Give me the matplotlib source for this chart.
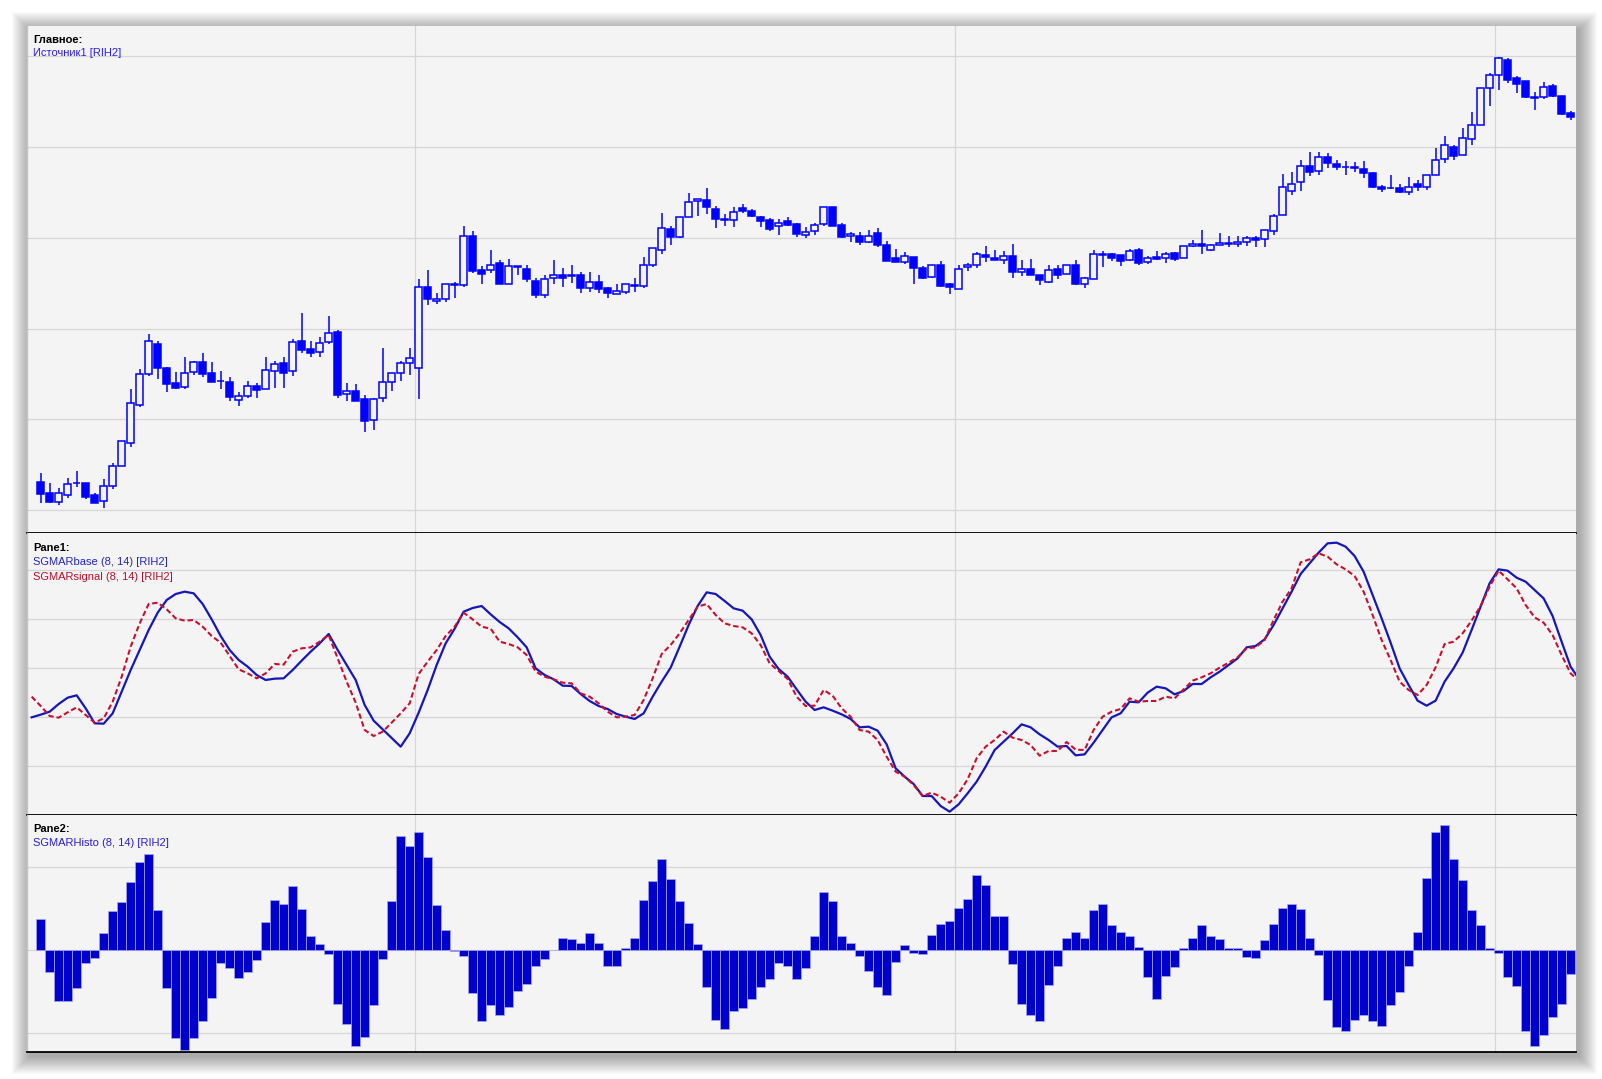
import numpy as np
import matplotlib
matplotlib.use("Agg")
import matplotlib.pyplot as plt
from matplotlib.patches import Rectangle

# ─── Dati (prezzi in punti sopra la linea di griglia inferiore) ──────────────
OPEN = [
    28, 17, 8, 15, 27, 27, 15, 9, 24, 44,
    67, 105, 136, 166, 142, 127, 123, 138, 148, 137,
    129, 128, 110, 114, 124, 121, 139, 147, 139, 169,
    161, 158, 168, 178, 116, 119, 111, 90, 112, 128,
    137, 147, 142, 223, 209, 211, 226, 225, 274, 240,
    240, 247, 226, 244, 241, 229, 215, 232, 235, 235,
    235, 222, 228, 222, 216, 218, 225, 224, 245, 260,
    281, 273, 293, 309, 310, 301, 291, 290, 302, 299,
    293, 290, 284, 289, 286, 275, 279, 286, 303, 285,
    274, 274, 268, 277, 265, 252, 248, 253, 242, 233,
    245, 226, 221, 243, 245, 255, 252, 250, 254, 238,
    241, 235, 228, 241, 236, 245, 226, 231, 256, 256,
    255, 250, 260, 248, 253, 252, 257, 252, 264, 266,
    260, 265, 267, 266, 268, 272, 271, 279, 295, 319,
    328, 344, 339, 353, 346, 343, 343, 341, 337, 323,
    322, 322, 318, 326, 323, 335, 351, 363, 355, 371,
    385, 422, 435, 450, 432, 429, 413, 413, 424, 414, 397,
]
HIGH = [
    37, 27, 22, 32, 39, 27, 17, 31, 47, 69,
    121, 141, 176, 169, 143, 138, 153, 149, 157, 148,
    139, 133, 118, 129, 127, 153, 149, 153, 171, 197,
    169, 173, 194, 180, 127, 126, 115, 112, 162, 137,
    149, 162, 231, 240, 217, 226, 228, 284, 279, 244,
    260, 250, 251, 244, 245, 232, 235, 250, 242, 245,
    238, 238, 235, 223, 226, 226, 232, 253, 262, 297,
    284, 293, 317, 311, 322, 304, 296, 303, 306, 301,
    294, 292, 291, 293, 287, 283, 287, 303, 303, 287,
    278, 278, 280, 282, 269, 261, 258, 253, 244, 245,
    249, 227, 245, 247, 258, 264, 260, 259, 266, 250,
    251, 235, 245, 245, 245, 250, 233, 260, 259, 257,
    255, 261, 262, 254, 259, 258, 258, 264, 270, 280,
    266, 277, 274, 274, 274, 274, 280, 296, 336, 338,
    350, 358, 358, 357, 350, 349, 348, 349, 338, 325,
    335, 326, 333, 330, 335, 362, 374, 365, 382, 398,
    422, 437, 453, 452, 434, 429, 418, 428, 426, 414, 399,
]
LOW = [
    7, 7, 5, 12, 23, 11, 7, 2, 21, 44,
    63, 103, 134, 131, 118, 121, 121, 135, 133, 128,
    121, 109, 104, 112, 112, 121, 122, 122, 134, 157,
    153, 153, 166, 112, 109, 109, 78, 80, 108, 119,
    129, 135, 111, 205, 206, 208, 212, 223, 237, 226,
    237, 226, 226, 235, 228, 212, 212, 226, 223, 227,
    217, 218, 217, 212, 216, 216, 218, 222, 243, 256,
    265, 272, 293, 294, 296, 282, 284, 283, 297, 293,
    283, 279, 275, 284, 273, 272, 275, 284, 284, 272,
    268, 265, 267, 263, 249, 248, 246, 226, 231, 232,
    223, 216, 221, 239, 242, 248, 250, 246, 232, 234,
    235, 225, 227, 231, 236, 225, 222, 231, 243, 249,
    244, 249, 245, 246, 250, 247, 249, 252, 263, 256,
    259, 265, 263, 263, 264, 263, 263, 275, 295, 315,
    319, 334, 335, 342, 340, 335, 338, 332, 322, 318,
    321, 317, 315, 319, 320, 335, 347, 350, 355, 365,
    385, 404, 420, 427, 417, 412, 400, 411, 413, 395, 390,
]
CLOSE = [
    16, 8, 17, 26, 27, 13, 7, 24, 44, 69,
    107, 136, 169, 142, 126, 122, 137, 148, 136, 128,
    129, 113, 114, 124, 120, 140, 146, 137, 168, 160,
    157, 167, 177, 115, 119, 109, 89, 111, 128, 137,
    147, 152, 223, 211, 211, 226, 225, 274, 239, 236,
    245, 226, 244, 243, 231, 215, 231, 235, 232, 234,
    222, 228, 221, 217, 219, 226, 224, 245, 262, 282,
    273, 293, 308, 311, 303, 291, 290, 298, 299, 294,
    289, 281, 287, 285, 276, 278, 285, 303, 284, 273,
    276, 268, 274, 265, 249, 248, 254, 242, 232, 245,
    224, 223, 241, 245, 256, 253, 250, 254, 238, 241,
    235, 230, 240, 235, 245, 226, 232, 256, 255, 252,
    249, 259, 247, 252, 251, 256, 251, 264, 266, 264,
    265, 267, 266, 268, 272, 270, 280, 294, 323, 326,
    344, 338, 353, 347, 343, 343, 342, 337, 323, 321,
    322, 318, 323, 323, 335, 350, 365, 354, 372, 385,
    422, 435, 452, 430, 426, 413, 412, 423, 414, 396, 393,
]

# SGMARbase / SGMARsignal: dalla barra -1 alla barra 171
BASE = [
    -149, -141, -132, -109, -90, -83, -122, -167, -168, -137,
    -72, -7, 53, 113, 165, 203, 221, 228, 223, 191,
    145, 95, 53, 23, 3, -22, -37, -33, -32, -7,
    21, 48, 73, 101, 53, 8, -37, -112, -159, -185,
    -211, -237, -197, -135, -67, 8, 73, 117, 168, 179,
    185, 160, 137, 118, 91, 61, -2, -22, -35, -54,
    -55, -79, -100, -115, -124, -139, -147, -154, -137, -87,
    -42, 0, 63, 128, 185, 226, 221, 200, 178, 171,
    145, 98, 33, -4, -27, -65, -102, -127, -119, -129,
    -140, -154, -179, -177, -189, -230, -302, -327, -349, -385,
    -385, -415, -432, -410, -377, -342, -297, -247, -222, -197,
    -170, -179, -200, -217, -237, -235, -263, -260, -225, -187,
    -149, -137, -102, -104, -75, -57, -62, -80, -70, -49,
    -49, -29, -12, 8, 28, 61, 65, 85, 128, 178,
    228, 281, 313, 345, 373, 375, 363, 335, 288, 218,
    148, 75, -2, -52, -99, -114, -99, -42, -2, 45,
    113, 183, 253, 295, 291, 270, 258, 233, 208, 155,
    78, 3, -37,
]
SIGNAL = [
    -87, -115, -145, -150, -134, -119, -142, -165, -152, -102,
    -27, 63, 133, 191, 195, 175, 148, 141, 143, 123,
    95, 75, 35, -5, -17, -32, -17, 11, 9, 48,
    58, 61, 78, 98, 28, -42, -105, -187, -205, -192,
    -165, -137, -107, -19, 18, 53, 95, 123, 165, 145,
    123, 117, 78, 71, 61, 38, -12, -27, -35, -45,
    -47, -77, -87, -107, -132, -149, -147, -142, -97, -32,
    41, 68, 103, 143, 183, 191, 158, 133, 125, 121,
    103, 68, 13, -10, -34, -87, -115, -114, -67, -84,
    -122, -147, -187, -192, -217, -267, -312, -327, -352, -385,
    -375, -387, -405, -377, -335, -272, -237, -217, -192, -210,
    -217, -232, -264, -250, -250, -223, -246, -247, -187, -147,
    -132, -124, -92, -102, -100, -100, -87, -92, -65, -39,
    -29, -17, 0, 15, 31, 58, 61, 83, 143, 198,
    238, 316, 325, 343, 333, 310, 295, 275, 228, 158,
    83, 23, -42, -67, -82, -52, 1, 71, 78, 103,
    141, 185, 243, 291, 265, 238, 188, 151, 135, 98,
    38, -17, -42,
]
HISTO = [
    93, -65, -152, -152, -115, -40, -23, 51, 115, 142,
    202, 263, 287, 120, -115, -262, -300, -264, -213, -145,
    -38, -55, -85, -67, -31, 82, 150, 138, 192, 122,
    42, 19, -13, -163, -222, -288, -260, -165, -28, 145,
    339, 309, 351, 278, 135, 58, -3, -17, -128, -213,
    -165, -195, -172, -122, -103, -49, -28, 0, 35, 33,
    22, 51, 22, -49, -47, 5, 35, 150, 207, 272,
    213, 147, 80, 19, -112, -210, -235, -182, -173, -148,
    -112, -88, -38, -49, -88, -55, 42, 174, 147, 42,
    22, -19, -62, -112, -136, -37, 15, -10, -13, 45,
    78, 85, 126, 153, 225, 195, 102, 102, -43, -162,
    -195, -213, -106, -49, 35, 54, 36, 120, 138, 75,
    54, 42, 10, -82, -148, -79, -52, 7, 36, 75,
    42, 33, 7, 7, -22, -25, 30, 78, 126, 138,
    123, 36, -16, -151, -231, -243, -210, -195, -213, -228,
    -165, -127, -49, 54, 216, 353, 374, 272, 210, 120,
    75, 7, -10, -82, -109, -243, -287, -255, -199, -163, -73,
]
DAY_BREAKS = [41.6, 101.6, 161.6]

# ─── Stile ────────────────────────────────────────────────────────────────────
BG = "#f4f4f4"
GRID = "#d6d6d6"
CANDLE = "#0000ff"
BASE_COL = "#1717b8"
SIG_COL = "#c8102e"
HIST_COL = "#0000cd"
FONT = ["Liberation Sans", "DejaVu Sans"]

W, H = 1602, 1079
fig = plt.figure(figsize=(W / 100, H / 100), dpi=100)
fig.patch.set_facecolor("white")


def box(x0, y0, x1, y1):
    return [x0 / W, 1 - y1 / H, (x1 - x0) / W, (y1 - y0) / H]


# ombra attorno al grafico
for s in range(18, 0, -1):
    fig.patches.append(Rectangle(
        ((27 - s + 3) / W, 1 - (1052 + s + 4) / H), (1549 + 2 * s) / W, (1026 + 2 * s) / H,
        transform=fig.transFigure, color="black", alpha=0.02, lw=0, zorder=-5))

ax0 = fig.add_axes(box(27, 26, 1576, 533))
ax1 = fig.add_axes(box(27, 533, 1576, 815))
ax2 = fig.add_axes(box(27, 815, 1576, 1052))

x = np.arange(len(OPEN))
x_line = np.arange(-1, len(BASE) - 1)

for ax, grid_y, lims in [
    (ax0, np.arange(6) * 90.7, (-23, 484)),
    (ax1, np.arange(-2, 3) * 147, (-442, 404)),
    (ax2, [-248, 0, 248], (-305, 403)),
]:
    ax.set_facecolor(BG)
    ax.set_xlim(-1.52, 170.6)
    ax.set_ylim(*lims)
    ax.set_xticks([])
    ax.set_yticks([])
    for gy in grid_y:
        ax.axhline(gy, color=GRID, lw=0.9, zorder=0)
    for gx in DAY_BREAKS:
        ax.axvline(gx, color=GRID, lw=0.9, zorder=0)
    ax.spines["right"].set_visible(False)
    ax.spines["top"].set_visible(False)
    ax.spines["left"].set_color("#c4c4c4")
    ax.spines["left"].set_linewidth(1.0)
    ax.spines["bottom"].set_color("black")
    ax.spines["bottom"].set_linewidth(1.3)

# ─── Candele ──────────────────────────────────────────────────────────────────
o, h, l, c = (np.array(v, dtype=float) for v in (OPEN, HIGH, LOW, CLOSE))
up = c >= o
ax0.vlines(x, l, h, color=CANDLE, lw=1.1, zorder=2)
ax0.bar(x[up], (c - o)[up], bottom=o[up], width=0.72,
        facecolor=BG, edgecolor=CANDLE, lw=1.1, zorder=3)
ax0.bar(x[~up], (o - c)[~up], bottom=c[~up], width=0.72,
        facecolor=CANDLE, edgecolor=CANDLE, lw=1.1, zorder=3)

# ─── Pane1: base / signal ─────────────────────────────────────────────────────
ax1.plot(x_line, BASE, color=BASE_COL, lw=1.6, zorder=3)
ax1.plot(x_line, SIGNAL, color=SIG_COL, lw=1.5, ls=(0, (2.6, 1.4)), zorder=4)

# ─── Pane2: istogramma ────────────────────────────────────────────────────────
ax2.bar(x, HISTO, width=1.0, color=HIST_COL, edgecolor="#a8a8ec", lw=0.5, zorder=3)

# ─── Etichette ────────────────────────────────────────────────────────────────
labels = [
    (40, "Главное:", "black", "bold"),
    (53.5, "Источник1 [RIH2]", "#2a1cff", "normal"),
    (548, "Pane1:", "black", "bold"),
    (562, "SGMARbase (8, 14) [RIH2]", "#2323c8", "normal"),
    (577, "SGMARsignal (8, 14) [RIH2]", "#b8102a", "normal"),
    (829, "Pane2:", "black", "bold"),
    (843, "SGMARHisto (8, 14) [RIH2]", "#2a1cd8", "normal"),
]
for ypix, txt, col, wt in labels:
    fig.text(33 / W, 1 - ypix / H, txt, color=col, fontweight=wt,
             fontsize=8, family=FONT, va="center", ha="left", zorder=10)

fig.savefig("out.png", dpi=100, facecolor="white")
